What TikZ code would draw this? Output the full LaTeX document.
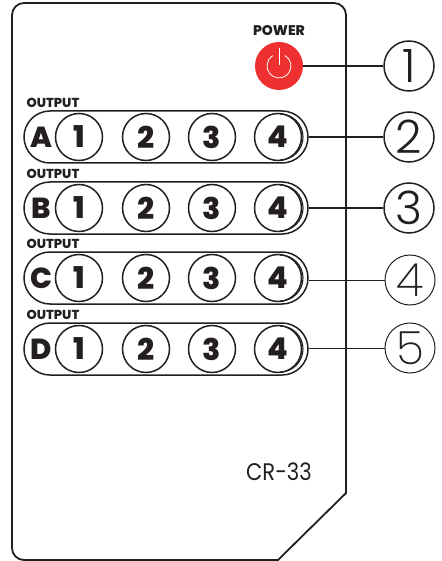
\documentclass[tikz,border=0pt]{standalone}
\usepackage{fontspec}
\setmainfont{Poppins}
\newfontfamily\calloutfont{Poppins Light}
\newfontfamily\calloutthinfont{Poppins ExtraLight}
\newfontfamily\heavyfont{Poppins ExtraBold}
\newfontfamily\modelfont[FakeStretch=0.88]{Poppins}
\usepackage{xcolor}
\usetikzlibrary{positioning}
\definecolor{inkline}{HTML}{231F20}
\definecolor{powerred}{HTML}{EE3030}
\tikzset{
  remotebody/.style={draw=inkline, line width=1.8pt},
  rowpill/.style={
    draw=inkline, line width=1.5pt, rounded corners=26pt,
    minimum width=284pt, minimum height=52pt, inner sep=0pt
  },
  keybutton/.style={
    circle, draw=inkline, line width=1.5pt, minimum size=47pt, inner sep=0pt,
    font=\heavyfont\fontsize{30}{30}\selectfont, text=inkline
  },
  rowletter/.style={font=\heavyfont\fontsize{29}{29}\selectfont, text=inkline, inner sep=0pt},
  outputlabel/.style={font=\heavyfont\fontsize{13}{13}\selectfont, text=inkline, inner sep=0pt},
  powerbutton/.style={circle, fill=powerred, minimum size=48pt, inner sep=0pt},
  powerglyph/.style={draw=white, line width=0.8pt},
  calloutmark/.style={
    circle, draw=inkline, line width=1.5pt, minimum size=50pt, inner sep=0pt, fill=white,
    font=\calloutfont\fontsize{46}{46}\selectfont, text=inkline
  },
  calloutthin/.style={
    calloutmark, line width=1pt, font=\calloutthinfont\fontsize{46}{46}\selectfont
  },
  calloutline/.style={draw=inkline, line width=1.5pt},
  calloutlinethin/.style={draw=inkline, line width=1pt},
  pillinner/.style={draw=inkline, line width=1.1pt},
}

\begin{document}
\begin{tikzpicture}[x=1pt, y=-1pt]
  \useasboundingbox (0,0) rectangle (441,561);
  \draw[remotebody] (346,493) [rounded corners=12pt] -- (346,3) -- (12,3) -- (12,560) [sharp corners] -- (278,560) -- cycle;

  \node[font=\heavyfont\fontsize{14}{14}\selectfont, text=inkline, inner sep=0pt] (powerlabel) at (279,31) {POWER};
  \node[powerbutton] (power) at (279,66) {};
  \draw[powerglyph] (285,55.6) arc[start angle=-60, end angle=240, radius=12];
  \draw[powerglyph] (279,48) -- (279,65);

  % row A
  \node[rowpill] (pilla) at (166,137) {};
  \node[outputlabel] (outa) at (53,103) {OUTPUT};
  \node[rowletter] (lettera) at (41,137) {A};
  \node[keybutton] (a1) at (79,137) {1};
  \node[keybutton] (a2) at (146,137) {2};
  \node[keybutton] (a3) at (212,137) {3};
  \node[keybutton] (a4) at (278,137) {4};
  % row B
  \node[rowpill] (pillb) at (166,208) {};
  \node[outputlabel] (outb) at (53,174) {OUTPUT};
  \node[rowletter] (letterb) at (41,208) {B};
  \node[keybutton] (b1) at (79,208) {1};
  \node[keybutton] (b2) at (146,208) {2};
  \node[keybutton] (b3) at (212,208) {3};
  \node[keybutton] (b4) at (278,208) {4};
  % row C
  \node[rowpill] (pillc) at (166,278) {};
  \node[outputlabel] (outc) at (53,244) {OUTPUT};
  \node[rowletter] (letterc) at (41,278) {C};
  \node[keybutton] (c1) at (79,278) {1};
  \node[keybutton] (c2) at (146,278) {2};
  \node[keybutton] (c3) at (212,278) {3};
  \node[keybutton] (c4) at (278,278) {4};
  % row D
  \node[rowpill] (pilld) at (166,349) {};
  \node[outputlabel] (outd) at (53,315) {OUTPUT};
  \node[rowletter] (letterd) at (41,349) {D};
  \node[keybutton] (d1) at (79,349) {1};
  \node[keybutton] (d2) at (146,349) {2};
  \node[keybutton] (d3) at (212,349) {3};
  \node[keybutton] (d4) at (278,349) {4};

  \draw[pillinner] (280,114) arc[start angle=-90, end angle=90, radius=23];
  \draw[pillinner] (280,185) arc[start angle=-90, end angle=90, radius=23];
  \draw[pillinner] (280,255) arc[start angle=-90, end angle=90, radius=23];
  \draw[pillinner] (280,326) arc[start angle=-90, end angle=90, radius=23];

  \node[font=\modelfont\fontsize{24}{24}\selectfont, text=inkline, inner sep=0pt] (model) at (279,472) {CR-33};

  \node[calloutmark] (mark1) at (409,66) {1};
  \node[calloutmark] (mark2) at (409,137) {2};
  \node[calloutmark] (mark3) at (409,208) {3};
  \node[calloutthin] (mark4) at (410,280) {4};
  \node[calloutthin] (mark5) at (410,348) {5};
  \draw[calloutline] (power) -- (mark1);
  \draw[calloutline] (pilla.east) -- (mark2);
  \draw[calloutline] (pillb.east) -- (mark3);
  \draw[calloutlinethin] (pillc.east |- mark4) -- (mark4);
  \draw[calloutlinethin] (pilld.east |- mark5) -- (mark5);
\end{tikzpicture}
\end{document}
